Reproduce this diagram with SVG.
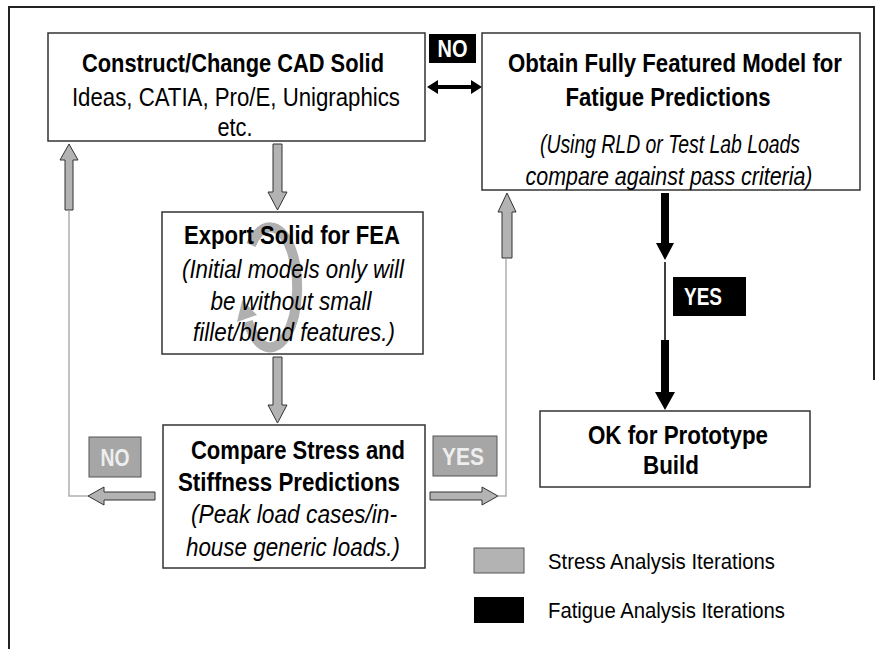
<svg xmlns="http://www.w3.org/2000/svg" width="882" height="649" viewBox="0 0 882 649">
<style>
.box{fill:#fff;stroke:#333;stroke-width:1.5}
.t{font-family:"Liberation Sans Narrow","Arial Narrow","Liberation Sans",Arial,sans-serif;font-size:25px;fill:#000;text-anchor:middle}
.b{font-weight:bold}
.i{font-style:italic}
.ga{fill:#b3b3b3;stroke:#333;stroke-width:1}
.ba{fill:#000}
.thin{fill:none;stroke:#b0b0b0;stroke-width:1.5}
.glab{fill:#a6a6a6;stroke:#555;stroke-width:1}
.wl{font-family:"Liberation Sans Narrow","Arial Narrow","Liberation Sans",Arial,sans-serif;font-size:23px;font-weight:bold;text-anchor:middle}
.leg{font-family:"Liberation Sans Narrow","Arial Narrow","Liberation Sans",Arial,sans-serif;font-size:22px;fill:#000}
</style>
<rect width="882" height="649" fill="#fff"/>
<path d="M9 649 V7 H874 V380" fill="none" stroke="#222" stroke-width="2"/>

<g id="connectors">
  <polygon class="ga" points="69,144 78,160 73,160 73,210 65,210 65,160 60,160"/>
  <polyline class="thin" points="69,211 69,496 88,496"/>
  <polygon class="ga" points="273,144 282,144 282,192 287,192 277.5,210 268,192 273,192"/>
  <polygon class="ga" points="273,357 282,357 282,405 287,405 277.5,423 268,405 273,405"/>
  <polygon class="ga" points="155,492 155,500 104,500 104,505 88,496 104,487 104,492"/>
  <polygon class="ga" points="430,492 430,500 482,500 482,505 498,496 482,487 482,492"/>
  <polyline class="thin" points="498,496 506,496 506,259"/>
  <polygon class="ga" points="507,193 516,212 512,212 512,258 502,258 502,212 498,212"/>
  <polygon class="ba" points="427,87 438,80 438,85 471,85 471,80 482,87 471,94 471,89 438,89 438,94"/>
  <polygon class="ba" points="661,193 669,193 669,243 674,243 665,260 656,243 661,243"/>
  <line x1="665" y1="262" x2="665" y2="342" stroke="#000" stroke-width="1.5"/>
  <polygon class="ba" points="661,340 669,340 669,392 675,392 665,410 655,392 661,392"/>
</g>

<g id="label-no-top">
  <rect x="429" y="34" width="47" height="29" fill="#000"/>
  <text class="wl" transform="scale(0.85 1)" x="532.4" y="57" fill="#fff" textLength="35.3" lengthAdjust="spacingAndGlyphs">NO</text>
</g>
<g id="label-yes-right">
  <rect x="673" y="277" width="73" height="39" fill="#000"/>
  <text class="wl" transform="scale(0.85 1)" x="827.1" y="305" fill="#fff" textLength="44.7" lengthAdjust="spacingAndGlyphs">YES</text>
</g>
<g id="label-no-left">
  <rect class="glab" x="89" y="437" width="52" height="40"/>
  <text class="wl" transform="scale(0.85 1)" x="135.3" y="466" fill="#eee" textLength="34.1" lengthAdjust="spacingAndGlyphs">NO</text>
</g>
<g id="label-yes-mid">
  <rect class="glab" x="433" y="436" width="64" height="40"/>
  <text class="wl" transform="scale(0.85 1)" x="544.7" y="465" fill="#eee" textLength="49.4" lengthAdjust="spacingAndGlyphs">YES</text>
</g>

<g id="node-cad">
  <rect class="box" x="48" y="33" width="377" height="108"/>
  <text class="t b" transform="scale(0.85 1)" x="274.1" y="72" textLength="355.3" lengthAdjust="spacingAndGlyphs">Construct/Change CAD Solid</text>
  <text class="t" transform="scale(0.85 1)" x="277.6" y="106" textLength="385.9" lengthAdjust="spacingAndGlyphs">Ideas, CATIA, Pro/E, Unigraphics</text>
  <text class="t" transform="scale(0.85 1)" x="276.5" y="136" textLength="41.2" lengthAdjust="spacingAndGlyphs">etc.</text>
</g>

<g id="node-fatigue">
  <rect class="box" x="482" y="33" width="378" height="157"/>
  <text class="t b" transform="scale(0.85 1)" x="794.1" y="72" textLength="392.9" lengthAdjust="spacingAndGlyphs">Obtain Fully Featured Model for</text>
  <text class="t b" transform="scale(0.85 1)" x="785.9" y="106" textLength="241.2" lengthAdjust="spacingAndGlyphs">Fatigue Predictions</text>
  <text class="t i" transform="scale(0.85 1)" x="788.2" y="153" textLength="305.9" lengthAdjust="spacingAndGlyphs">(Using RLD or Test Lab Loads</text>
  <text class="t i" transform="scale(0.85 1)" x="787.1" y="185" textLength="337.6" lengthAdjust="spacingAndGlyphs">compare against pass criteria)</text>
</g>

<g id="node-export">
  <rect class="box" x="162" y="212" width="261" height="142"/>
  <path d="M251 245 A27 60 0 1 1 247.9 321.4" fill="none" stroke="#b0b0b0" stroke-width="10"/>
  <polygon points="242.2,300 257,315 237,322" fill="#b0b0b0"/>
  <text class="t b" transform="scale(0.85 1)" x="343.5" y="244" textLength="254.1" lengthAdjust="spacingAndGlyphs">Export Solid for FEA</text>
  <text class="t i" transform="scale(0.85 1)" x="344.7" y="278" textLength="261.2" lengthAdjust="spacingAndGlyphs">(Initial models only will</text>
  <text class="t i" transform="scale(0.85 1)" x="342.4" y="310" textLength="189.4" lengthAdjust="spacingAndGlyphs">be without small</text>
  <text class="t i" transform="scale(0.85 1)" x="345.9" y="341" textLength="237.6" lengthAdjust="spacingAndGlyphs">fillet/blend features.)</text>
</g>

<g id="node-compare">
  <rect class="box" x="163" y="425" width="262" height="143"/>
  <text class="t b" transform="scale(0.85 1)" x="350.6" y="459" textLength="251.8" lengthAdjust="spacingAndGlyphs">Compare Stress and</text>
  <text class="t b" transform="scale(0.85 1)" x="340" y="491" textLength="261.2" lengthAdjust="spacingAndGlyphs">Stiffness Predictions</text>
  <text class="t i" transform="scale(0.85 1)" x="345.9" y="523" textLength="242.4" lengthAdjust="spacingAndGlyphs">(Peak load cases/in-</text>
  <text class="t i" transform="scale(0.85 1)" x="344.7" y="556" textLength="251.8" lengthAdjust="spacingAndGlyphs">house generic loads.)</text>
</g>

<g id="node-ok">
  <rect class="box" x="540" y="411" width="270" height="76"/>
  <text class="t b" transform="scale(0.85 1)" x="797.6" y="444" textLength="211.8" lengthAdjust="spacingAndGlyphs">OK for Prototype</text>
  <text class="t b" transform="scale(0.85 1)" x="789.4" y="474" textLength="65.9" lengthAdjust="spacingAndGlyphs">Build</text>
</g>

<g id="legend">
  <rect x="474" y="548" width="50" height="25" fill="#b3b3b3" stroke="#555" stroke-width="1"/>
  <text class="leg" transform="scale(0.85 1)" x="644.7" y="569" textLength="267.1" lengthAdjust="spacingAndGlyphs">Stress Analysis Iterations</text>
  <rect x="474" y="597" width="50" height="26" fill="#000"/>
  <text class="leg" transform="scale(0.85 1)" x="644.7" y="618" textLength="278.8" lengthAdjust="spacingAndGlyphs">Fatigue Analysis Iterations</text>
</g>
</svg>
